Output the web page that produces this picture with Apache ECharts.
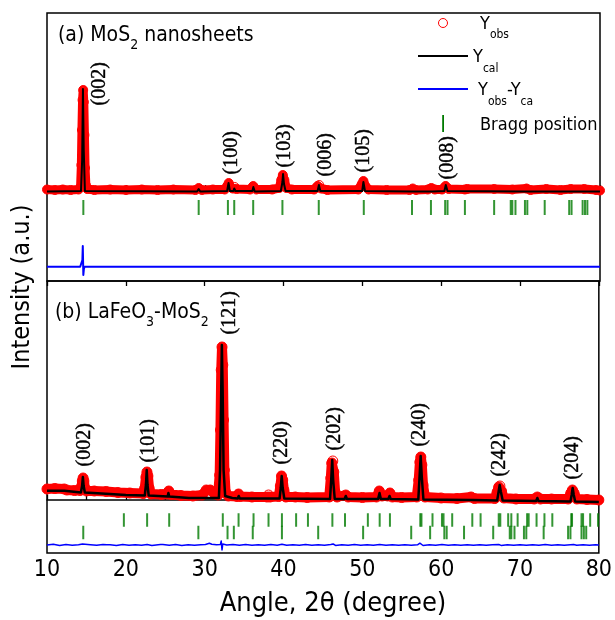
<!DOCTYPE html>
<html><head><meta charset="utf-8">
<script src="https://cdn.jsdelivr.net/npm/echarts@6/dist/echarts.min.js"></script>
<style>html,body{margin:0;padding:0;background:#fff}#c{width:615px;height:620px}</style>
</head><body><div id="c"></div>
<script>
// ---------- DATA (angle 2θ in degree, intensity in a.u.) ----------
// Panel (a) MoS2 nanosheets
const obsA = [[10.0,0.5],[11.0,0],[12.0,0.5],[13.0,0],[14.0,0.5],[14.25,3],[14.35,25],[14.42,60],[14.5,90],[14.58,100],[14.66,88],[14.74,55],[14.82,22],[14.92,5],[15.1,1],[16,0],[18,0.5],[20,0],[22,0.5],[24,0],[26,0.5],[28.8,0],[29.2,2],[29.6,0],[31,0.5],[32.5,0.5],[32.8,4],[33.0,7],[33.2,3],[33.5,1.5],[33.75,3],[34.0,1],[35.7,0.5],[36.1,4],[36.5,0.5],[38.5,0.5],[39.4,2],[39.65,10],[39.85,15],[40.05,10],[40.3,2],[41,0.5],[43.8,0.5],[44.25,4],[44.45,5],[44.7,1.5],[45.5,0],[49.4,0.5],[49.85,6],[50.05,9],[50.3,4],[50.7,0.5],[53,0],[55.9,0],[56.3,1.5],[56.7,0],[58.2,0.5],[58.65,2],[59.1,0.5],[60.0,0.5],[60.45,4],[60.85,1],[62.9,0.5],[63.2,1],[66.6,1],[68.9,0.5],[70.7,1.5],[71.2,0],[73.2,1],[75,0],[76.3,1],[78.0,1],[79.5,0],[80,-0.5]];
const calA = [[10,-1.5],[14.3,-1],[14.45,30],[14.55,101],[14.65,40],[14.8,-1],[29.0,-1.5],[29.2,1],[29.4,-1.5],[32.8,-1],[32.98,7],[33.15,-1],[33.6,-1],[33.7,1.5],[33.85,-1],[36.0,-1],[36.12,3],[36.3,-1.5],[39.6,-1],[39.8,8],[39.88,16],[40.0,6],[40.2,-1],[44.25,-1],[44.42,5],[44.6,-1],[49.9,-1],[50.05,8],[50.25,-1],[56.2,-1.5],[56.35,0.5],[56.5,-1.5],[58.5,-1.5],[58.65,0.5],[58.8,-1.5],[60.3,-1],[60.48,5],[60.7,-1],[70.5,-1.5],[70.65,0.5],[70.8,-1.5],[73.15,-1.5],[73.3,0],[73.45,-1.5],[76.25,-1.5],[76.4,0],[76.55,-1.5],[80,-1.5]];
const diffA = [[10,-76.7],[12,-76.7],[14.2,-76.7],[14.38,-75],[14.48,-70],[14.53,-56],[14.6,-85],[14.67,-79],[14.76,-76.7],[20,-76.7],[29.0,-76.7],[29.2,-75.8],[29.4,-76.7],[32.8,-76.7],[32.95,-78.3],[33.1,-76.7],[35.9,-76.7],[36.1,-77.5],[36.3,-76.7],[39.7,-76.7],[39.85,-76],[40.0,-76.7],[44.3,-76.7],[44.45,-75.2],[44.6,-76.7],[49.95,-76.7],[50.1,-76],[50.25,-76.7],[56.15,-76.7],[56.3,-76.2],[56.45,-76.7],[58.5,-76.7],[58.65,-75],[58.8,-76.7],[60.35,-76.7],[60.5,-78.2],[60.65,-76.7],[70.45,-76.7],[70.6,-75.9],[70.75,-76.7],[73.05,-76.7],[73.2,-76.2],[73.35,-76.7],[76.15,-76.7],[76.3,-75.9],[76.45,-76.7],[80,-76.7]];
const braggMoS2 = [14.6,29.2,32.9,33.7,36.1,39.8,44.4,50.1,56.2,58.6,60.4,60.7,62.9,66.6,68.7,68.9,69.3,70.5,70.8,73.0,76.1,76.4,77.8,78.1,78.4];
const hklA = ['(002)','(100)','(103)','(006)','(105)','(008)'];
const hklAAngle = [16.7,33.4,40.2,45.4,50.1,60.8];
const hklAHeight = [84,15,22,13,17,10];

// Panel (b) LaFeO3-MoS2
const obsB = [[10,11],[11,11.5],[12.2,11],[12.5,10],[13.5,9.5],[14.2,9.5],[14.35,13],[14.48,19],[14.58,22],[14.68,19],[14.8,12],[15.0,9],[16,9],[17.5,8.5],[19,7.5],[20.5,7],[22.2,6.5],[22.4,12],[22.55,23],[22.68,28],[22.8,24],[22.95,12],[23.2,6],[24.5,5.5],[25.2,6],[25.45,9],[25.7,5.5],[27,4.5],[28.5,4],[29.7,5],[30.2,10],[30.7,10],[31.3,6],[31.7,5],[31.9,25],[32.0,70],[32.1,130],[32.2,153],[32.3,135],[32.4,80],[32.5,30],[32.65,8],[33.0,4],[34.1,3.5],[34.3,6],[34.5,3.5],[36,3],[37.9,3],[38.1,5],[38.3,3],[39.4,3.5],[39.6,14],[39.75,24],[39.9,20],[40.05,10],[40.3,3],[41.5,3],[43,2.5],[45.8,3],[46.0,22],[46.12,37],[46.25,39],[46.38,28],[46.55,8],[46.8,3],[47.9,5],[48.2,3],[50,2.5],[51.8,3],[52.15,9],[52.5,4],[53.2,4],[53.5,7],[53.8,3],[55,2.5],[56.9,3],[57.15,20],[57.3,38],[57.42,43],[57.55,35],[57.7,15],[57.95,3],[60,2],[62,1.5],[63.8,3],[64.2,1.5],[66.8,1.5],[67.1,8],[67.3,13],[67.45,14],[67.65,9],[67.95,2],[69.5,1],[71.8,1],[72.2,3],[72.6,1],[74,1],[76.1,1],[76.45,7],[76.65,10],[76.85,7],[77.2,1],[78.5,0.5],[80,0]];
const calB = [[10,9.3],[12.2,9.3],[12.4,8],[14.3,7.5],[14.45,14],[14.55,23],[14.65,14],[14.8,7.5],[18,6],[20,5],[22.4,4.5],[22.55,15],[22.65,30],[22.75,15],[22.9,4.5],[25.3,3.5],[25.4,7],[25.5,3.5],[28,2],[30,2],[31.8,2],[31.95,30],[32.1,110],[32.18,155],[32.28,110],[32.4,30],[32.6,4],[33.5,2],[34.2,1.5],[34.32,4],[34.45,1.5],[37.9,1.5],[38.05,3],[38.2,1.5],[39.5,1.5],[39.65,12],[39.77,24],[39.9,12],[40.1,1.5],[45.9,1],[46.05,20],[46.18,40],[46.3,20],[46.5,1],[47.75,1],[47.9,4],[48.05,1],[52,1],[52.18,7],[52.35,1],[53.3,1],[53.45,4],[53.6,1],[57.1,0.5],[57.25,22],[57.4,44],[57.55,22],[57.75,0.5],[63.7,0],[63.85,1.5],[64,0],[67.1,-0.5],[67.28,8],[67.42,15],[67.58,8],[67.8,-0.5],[72.05,-1],[72.2,2],[72.35,-1],[76.4,-1.5],[76.55,5],[76.68,12],[76.82,5],[77.0,-1.5],[80,-2]];
const diffB = [[10,-45],[10.8,-44.3],[11.6,-45.4],[12.4,-44.6],[13.2,-45.3],[14.0,-44.8],[14.5,-44],[14.7,-45.6],[15.5,-44.7],[16.3,-45.3],[17.1,-44.6],[17.6,-44.8],[17.8,-43],[18.0,-44.8],[18.8,-45.4],[19.6,-44.6],[20.4,-45.3],[21.2,-44.7],[22.0,-45.2],[22.7,-44.4],[23.3,-45.5],[24.1,-44.8],[24.4,-44.5],[24.55,-42.8],[24.7,-44.6],[25.5,-45.3],[26.3,-44.6],[27.1,-45.4],[27.9,-44.8],[28.7,-45.3],[29.5,-44.7],[30.1,-44.5],[30.3,-42.5],[30.6,-43.2],[30.9,-44.2],[31.5,-44.8],[32.0,-44.5],[32.1,-41],[32.2,-50],[32.3,-44],[32.8,-45],[33.6,-44.5],[34.4,-45.3],[35.2,-44.6],[36.0,-45.2],[36.8,-44.7],[37.6,-45.3],[38.4,-44.6],[39.2,-45.2],[39.8,-44.2],[40.4,-45.3],[41.2,-44.7],[42,-45.2],[42.8,-44.6],[43.6,-45.3],[44.4,-44.8],[45.2,-45.2],[46.0,-44.6],[46.3,-44],[46.6,-45.4],[47.4,-44.8],[48.2,-45.3],[49,-44.6],[49.8,-45.2],[50.6,-44.7],[51.4,-45.3],[52.2,-44.5],[53,-45.2],[53.8,-44.7],[54.6,-45.3],[55.4,-44.8],[56.2,-45.2],[57.0,-44.8],[57.3,-43.2],[57.5,-44.5],[57.7,-45.5],[58.5,-44.8],[59.3,-45.2],[60.1,-44.6],[60.9,-45.3],[61.7,-44.7],[62.5,-45.2],[63.3,-44.8],[64.1,-45.3],[64.9,-44.7],[65.7,-45.2],[66.5,-44.7],[67.3,-44.5],[67.6,-45.4],[68.4,-44.8],[69.2,-45.3],[70,-44.7],[70.8,-45.2],[71.6,-44.7],[72.4,-45.3],[73.2,-44.6],[74,-45.2],[74.8,-44.8],[75.6,-45.3],[76.4,-44.7],[76.8,-44.5],[77.2,-45.3],[78,-44.8],[78.8,-45.2],[79.6,-44.7],[80,-45]];
const braggLaFeO3 = [19.75,22.7,25.5,32.3,34.3,36.2,38.1,39.8,41.6,43.1,46.2,47.8,50.7,52.2,53.5,57.35,57.5,58.9,60.1,60.3,61.4,63.95,65.0,67.3,67.5,68.5,68.9,69.7,70.9,71.1,72.1,73.1,74.1,76.5,76.6,77.8,78.0,78.9,79.9];
const hklB = ['(002)','(101)','(121)','(220)','(202)','(240)','(242)','(204)'];
const hklBAngle = [14.9,23.0,33.2,39.9,46.6,57.3,67.55,76.7];
const hklBHeight = [33,37,165,35,49,53,23,20];

const xTicks = [10,20,30,40,50,60,70,80];

// ---------- fonts ----------
const mctx = document.createElement('canvas').getContext('2d');
function hasFont(f){
  mctx.font = '40px "' + f + '", monospace'; const a = mctx.measureText('Intensity abc').width;
  mctx.font = '40px monospace'; const b = mctx.measureText('Intensity abc').width;
  return a !== b;
}
const SANS = hasFont('DejaVu Sans Condensed') ? 'DejaVu Sans Condensed' : 'Liberation Sans';
const SERIF = 'Liberation Serif';
function tw(t, size, fam){ mctx.font = size + 'px "' + fam + '"'; return mctx.measureText(t).width; }
function segText(x, y, parts, fam){
  fam = fam || SANS; const out = []; let cx = x;
  parts.forEach(p => {
    out.push({type:'text', x:cx, y:y + (p[2]||0), silent:true,
      style:{text:p[0], fontSize:p[1], fontFamily:fam, fill:'#000', align:'left', verticalAlign:'middle'}});
    cx += tw(p[0], p[1], fam);
  });
  return out;
}

const RED='#ff0000', BLUE='#0000ff', GREEN='#007a00';
const graphics = [].concat(
  segText(58, 36, [['(a) MoS',21],['2',14,9],[' nanosheets',21]]),
  segText(55, 313, [['(b) LaFeO',21],['3',14,9],['-MoS',21],['2',14,9]]),
  segText(480, 24, [['Y',18],['obs',12,11]]),
  segText(473, 57, [['Y',18],['cal',12,11.5]]),
  segText(478, 90, [['Y',18],['obs',12,11.5],['-Y',18],['ca',12,11.5]]),
  segText(480, 125, [['Bragg position',18]]),
  [
    {type:'circle', shape:{cx:443, cy:23, r:4.5}, style:{fill:'none', stroke:RED, lineWidth:1}},
    {type:'line', shape:{x1:418, y1:56, x2:468, y2:56}, style:{stroke:'#000', lineWidth:2}},
    {type:'line', shape:{x1:418, y1:89, x2:468, y2:89}, style:{stroke:BLUE, lineWidth:2}},
    {type:'rect', shape:{x:442.2, y:115, width:1.8, height:17}, style:{fill:GREEN}},
    {type:'text', x:22, y:287, rotation:Math.PI/2, style:{text:'Intensity (a.u.)', fontSize:25, fontFamily:SANS, fill:'#000', align:'center', verticalAlign:'middle'}},
    {type:'text', x:333, y:604, style:{text:'Angle, 2\u03b8 (degree)', fontSize:27, fontFamily:SANS, fill:'#000', align:'center', verticalAlign:'middle'}}
  ]
);

const tickStyle = {color:'#000', width:1.3};
function xAxis(grid, opts){
  return Object.assign({gridIndex:grid, type:'value', min:10, max:80, interval:10,
    axisLine:{show:true, lineStyle:{color:'#000', width:1.5}},
    axisTick:{show:true, inside:true, length:5, lineStyle:tickStyle},
    axisLabel:{show:false}, splitLine:{show:false}}, opts||{});
}
function yAxis(grid, min, max){
  return {gridIndex:grid, type:'value', min:min, max:max, axisLine:{show:false}, axisTick:{show:false}, axisLabel:{show:false}, splitLine:{show:false}};
}
function obsSeries(data, xi, yi, w){
  return {type:'line', xAxisIndex:xi, yAxisIndex:yi, data:data, showSymbol:true, symbol:'circle', symbolSize:w,
    itemStyle:{color:'rgba(0,0,0,0)', borderColor:RED, borderWidth:1},
    lineStyle:{color:RED, width:w, join:'round', cap:'round'}, silent:true, z:2};
}
function lineSeries(data, xi, yi, color, w, z){
  return {type:'line', xAxisIndex:xi, yAxisIndex:yi, data:data, showSymbol:false, symbol:'none',
    lineStyle:{color:color, width:w, join:'round'}, silent:true, z:z};
}
function braggSeries(pos, level, len, xi, yi){
  return {type:'scatter', xAxisIndex:xi, yAxisIndex:yi, data:pos.map(a => [a, level]), symbol:'rect',
    symbolSize:[2, len], itemStyle:{color:GREEN}, silent:true, z:3};
}
function hklSeries(names, ang, hgt, xi, yi){
  return {type:'scatter', xAxisIndex:xi, yAxisIndex:yi, silent:true, z:5,
    data:names.map((n,i) => ({value:[ang[i], hgt[i]], name:n})),
    symbolSize:1, itemStyle:{color:'rgba(0,0,0,0)'},
    label:{show:true, formatter:p => p.name, rotate:90, position:[0,0], align:'left', verticalAlign:'middle',
      fontFamily:SERIF, fontSize:20, color:'#000', opacity:1, textBorderColor:'#000', textBorderWidth:0.4}};
}

const chart = echarts.init(document.getElementById('c'), null, {renderer:'canvas'});
chart.setOption({
  animation:false,
  backgroundColor:'#fff',
  grid:[
    {left:47, right:15, top:13, height:268, show:true, borderColor:'#000', borderWidth:1.5, backgroundColor:'transparent'},
    {left:47, right:15, top:281, height:272, show:true, borderColor:'#000', borderWidth:1.5, backgroundColor:'transparent'}
  ],
  xAxis:[
    xAxis(0),
    xAxis(1, {axisTick:{show:true, inside:true, length:5, lineStyle:tickStyle},
      minorTick:{show:true, splitNumber:2, length:5, lineStyle:tickStyle},
      axisLabel:{show:true, fontSize:23, fontFamily:SANS, color:'#000', margin:6, showMinLabel:true, showMaxLabel:true,
        formatter:v => xTicks.indexOf(v) >= 0 ? String(v) : ''}}),
    xAxis(1, {position:'top', axisLine:{show:false}})
  ],
  yAxis:[ yAxis(0, -91, 177), yAxis(1, -53, 219) ],
  series:[
    obsSeries(obsA, 0, 0, 9),
    lineSeries(calA, 0, 0, '#000', 2, 3),
    lineSeries(diffA, 0, 0, BLUE, 2, 3),
    braggSeries(braggMoS2, -17.5, 15, 0, 0),
    hklSeries(hklA, hklAAngle, hklAHeight, 0, 0),
    obsSeries(obsB, 1, 1, 10),
    lineSeries(calB, 1, 1, '#000', 2.5, 3),
    lineSeries(diffB, 1, 1, BLUE, 1.5, 3),
    braggSeries(braggLaFeO3, -20, 13.5, 1, 1),
    braggSeries(braggMoS2, -32.5, 13.5, 1, 1),
    hklSeries(hklB, hklBAngle, hklBHeight, 1, 1)
  ],
  graphic:graphics
});
</script></body></html>
